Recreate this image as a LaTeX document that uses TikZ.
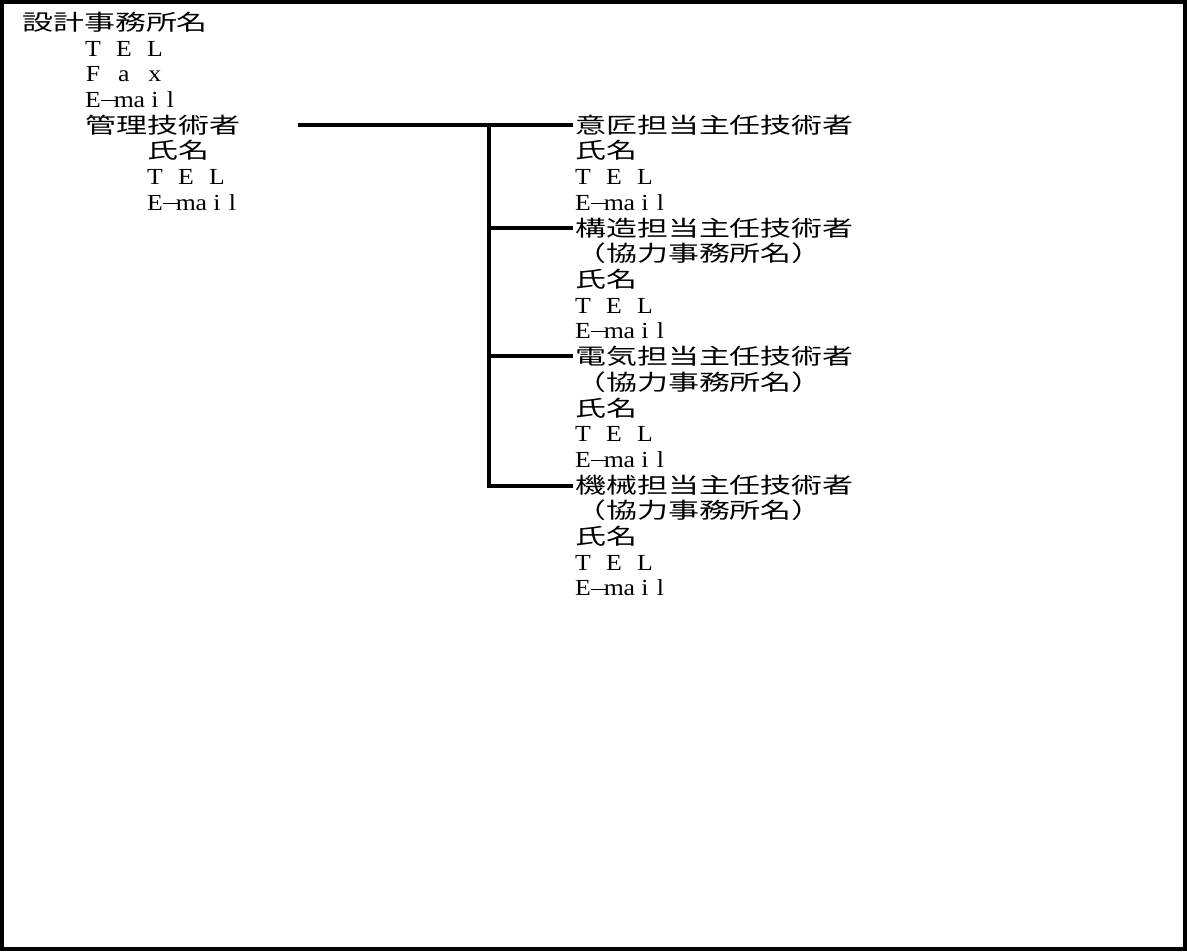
\documentclass[tikz,border=0pt]{standalone}
\usepackage{fontspec}
\setmainfont[FakeStretch=1.12]{Liberation Serif}
\newfontfamily\jp[FakeStretch=1.42]{Noto Sans CJK JP}
\newcommand\hw[1]{\makebox[15.5pt][c]{#1}}
\newcommand\TELtxt{\hw{T}\hw{}\hw{E}\hw{}\hw{L}}
\newcommand\FAXtxt{\hw{F}\hw{}\hw{a}\hw{}\hw{x}}
\newcommand\MAILtxt{\hw{E}\hw{\rule[6.5pt]{15pt}{0.9pt}}\hw{m}\hw{a}\hw{i}\hw{l}}
\begin{document}
\begin{tikzpicture}[x=1pt,y=-1pt,
  txt/.style={anchor=base west, inner sep=0pt, font=\fontsize{23}{23}\selectfont},
  jtxt/.style={anchor=base west, inner sep=0pt, font=\fontsize{21.8}{21.8}\selectfont\jp},
  link/.style={line width=4pt},
  frame/.style={line width=4pt}]
\useasboundingbox (0,0) rectangle (1187,952);
\draw[frame] (2,2) rectangle (1185,949);
% left column
\node[jtxt] (office) at (22,30.5) {設計事務所名};
\node[txt] (otel) at (85,56.2) {\TELtxt};
\node[txt] (ofax) at (85,81.9) {\FAXtxt};
\node[txt] (omail) at (85,107.6) {\MAILtxt};
\node[jtxt] (kanri) at (85,133.3) {管理技術者};
\node[jtxt] (kname) at (147,159.0) {氏名};
\node[txt] (ktel) at (147,184.7) {\TELtxt};
\node[txt] (kmail) at (147,210.4) {\MAILtxt};
% right column
\node[jtxt] (ishou) at (575,133.3) {意匠担当主任技術者};
\node[jtxt] (iname) at (575,159.0) {氏名};
\node[txt] (itel) at (575,184.7) {\TELtxt};
\node[txt] (imail) at (575,210.4) {\MAILtxt};
\node[jtxt] (kouzou) at (575,236.1) {構造担当主任技術者};
\node[jtxt] (kzoff) at (575,261.8) {（協力事務所名）};
\node[jtxt] (kzname) at (575,287.5) {氏名};
\node[txt] (kztel) at (575,313.2) {\TELtxt};
\node[txt] (kzmail) at (575,338.9) {\MAILtxt};
\node[jtxt] (denki) at (575,364.6) {電気担当主任技術者};
\node[jtxt] (dkoff) at (575,390.3) {（協力事務所名）};
\node[jtxt] (dkname) at (575,416.0) {氏名};
\node[txt] (dktel) at (575,441.7) {\TELtxt};
\node[txt] (dkmail) at (575,467.4) {\MAILtxt};
\node[jtxt] (kikai) at (575,493.1) {機械担当主任技術者};
\node[jtxt] (kkoff) at (575,518.8) {（協力事務所名）};
\node[jtxt] (kkname) at (575,544.5) {氏名};
\node[txt] (kktel) at (575,570.2) {\TELtxt};
\node[txt] (kkmail) at (575,595.9) {\MAILtxt};
% connectors
\coordinate (start) at (298,125);
\coordinate (jtop) at (489,125);
\coordinate (jk) at (489,228);
\coordinate (jd) at (489,356);
\coordinate (jm) at (489,486);
\coordinate (ei) at (573,125);
\coordinate (ek) at (573,228);
\coordinate (ed) at (573,356);
\coordinate (em) at (573,486);
\draw[link] (start) -- (ei);
\draw[link] (jtop) -- (jm);
\draw[link] (jk) -- (ek);
\draw[link] (jd) -- (ed);
\draw[link] ([xshift=-2pt]jm) -- (em);
\end{tikzpicture}
\end{document}
